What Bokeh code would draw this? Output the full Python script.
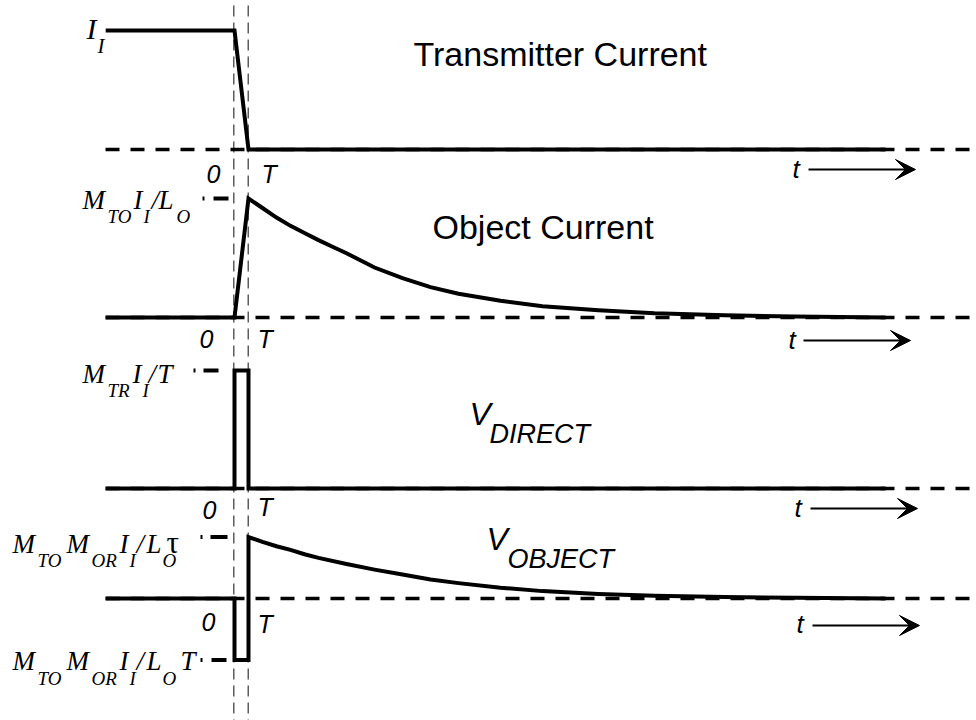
from bokeh.plotting import figure
from bokeh.models import Range1d, Label, Arrow, VeeHead
from bokeh.embed import file_html
from bokeh.resources import INLINE

# ---- waveforms, time in units of the switch-off ramp T ----
t_tx = [-9.2, 0.0, 1.0, 46.5]
i_tx = [1.0, 1.0, 0.0, 0.0]

t_obj = [-9.2, 0, 1, 2, 3, 4, 5, 6, 7, 8, 10, 12, 14, 16, 19, 22, 26, 30, 35, 40, 46.5]
i_obj = [0, 0, 1.00, 0.92, 0.84, 0.77, 0.71, 0.65, 0.595, 0.54, 0.42, 0.33, 0.255,
         0.20, 0.14, 0.095, 0.06, 0.035, 0.018, 0.008, 0.0]

t_dir = [-9.2, 0, 0, 1, 1, 46.5]
v_dir = [0, 0, 1, 1, 0, 0]

t_vob = [-9.2, 0, 0, 1, 1, 2, 3, 4, 5, 6, 8, 10, 12, 14, 16, 19, 22, 26, 30, 35, 40, 46.5]
v_vob = [0, 0, -1, -1, 1.0, 0.92, 0.85, 0.79, 0.72, 0.66, 0.56, 0.47, 0.39, 0.31,
         0.25, 0.175, 0.12, 0.075, 0.045, 0.025, 0.012, 0.0]

titles = ["Transmitter Current", "Object Current"]

# ---- layout ----
W, H = 976, 720
X0, TPX = 234.0, 14.0          # pixel of t=0 and pixels per T
SERIF, SANS = "Liberation Serif", "Liberation Sans"
MAIN, SUB = 27, 19             # serif symbol sizes


def px2t(px):
    return (px - X0) / TPX


p = figure(width=W, height=H, output_backend="svg", toolbar_location=None,
           x_range=Range1d(px2t(0), px2t(W)), y_range=Range1d(H, 0),
           min_border=0, min_border_left=0, min_border_right=0,
           min_border_top=0, min_border_bottom=0)
p.xaxis.visible = False
p.yaxis.visible = False
p.grid.visible = False
p.outline_line_color = None
p.background_fill_color = "white"
p.border_fill_color = "white"

# vertical guides at t = 0 and t = T
for tt in (-0.05, 0.98):
    p.line([tt, tt], [5, H + 2], line_color="#444444", line_width=1.3, line_dash="11 6")


def text(px, py, txt, size, font=SERIF, style="italic"):
    # py is the text baseline in layout pixels; label is anchored on its middle
    p.add_layout(Label(x=px2t(px), y=py - 0.35 * size, text=txt,
                       text_font=font, text_font_style=style,
                       text_font_size=f"{size}px", text_color="black",
                       text_baseline="middle", text_align="left"))


class Panel:
    def __init__(self, name, base, amp):
        self.name = name
        p.extra_y_ranges[name] = Range1d((base - H) / amp, base / amp)

    def baseline(self):
        p.line([px2t(105), px2t(W + 5)], [0, 0], y_range_name=self.name,
               line_color="black", line_width=3.5, line_dash="14 11")

    def signal(self, t, y):
        p.line(t, y, y_range_name=self.name, line_color="black", line_width=4,
               line_join="miter")

    def level(self, px0, value, dash):
        p.line([px2t(px0), px2t(233)], [value, value], y_range_name=self.name,
               line_color="black", line_width=4, line_dash=dash, line_cap="butt")


def zero_T(px0, py0, pxT, pyT):
    text(px0, py0, "0", 25, SANS)
    text(pxT, pyT, "T", 25, SANS)


def time_arrow(pxt, pyt, x0, x1, ya):
    text(pxt, pyt, "t", 26, SANS)
    p.add_layout(Arrow(end=VeeHead(size=20, fill_color="black", line_color="black",
                                   line_width=1),
                       x_start=px2t(x0), y_start=ya, x_end=px2t(x1), y_end=ya,
                       line_color="black", line_width=2))


# Transmitter current
p1 = Panel("tx", 149, 119)
p1.baseline()
p1.signal(t_tx, i_tx)
text(86, 38, "I", 30)
text(97, 53, "I", 21)
zero_T(206, 182, 261, 182)
time_arrow(792, 178, 808, 915, 169)
text(413, 65, titles[0], 34, SANS, "normal")

# Object current
p2 = Panel("obj", 317, 119)
p2.baseline()
p2.signal(t_obj, i_obj)
p2.level(202, max(i_obj), "2 9 15 30")
for px, py, s, sz in [(82, 209, "M", MAIN), (107, 223, "TO", SUB), (133, 209, "I", MAIN),
                      (143, 223, "I", SUB), (151, 209, "/", MAIN), (158, 209, "L", MAIN),
                      (176, 223, "O", SUB)]:
    text(px, py, s, sz)
zero_T(199, 347, 257, 347)
time_arrow(788, 349, 803, 910, 340)
text(432, 238, titles[1], 34, SANS, "normal")

# Direct (primary) voltage
p3 = Panel("dir", 488, 118)
p3.baseline()
p3.signal(t_dir, v_dir)
p3.level(193, max(v_dir), "2 8 15 30")
for px, py, s, sz in [(82, 383, "M", MAIN), (107, 397, "TR", SUB), (132, 383, "I", MAIN),
                      (142, 397, "I", SUB), (148, 383, "/", MAIN), (157, 383, "T", MAIN)]:
    text(px, py, s, sz)
zero_T(202, 518, 257, 515)
time_arrow(794, 517, 810, 917, 508)
text(469, 425, "V", 32, SANS)
text(489, 443, "DIRECT", 27, SANS)

# Object (secondary) voltage
p4 = Panel("vob", 598, 61.5)
p4.baseline()
p4.signal(t_vob, v_vob)
p4.level(200, max(v_vob), "2 8 17 30")
p4.level(200, min(v_vob), "2 9 15 30")
for base_main, base_sub, last in [(553, 567, None), (670, 685, "T")]:
    for px, py, s, sz in [(12, base_main, "M", MAIN), (37, base_sub, "TO", SUB),
                          (66, base_main, "M", MAIN), (91, base_sub, "OR", SUB),
                          (119, base_main, "I", MAIN), (129, base_sub, "I", SUB),
                          (136, base_main, "/", MAIN), (146, base_main, "L", MAIN),
                          (162, base_sub, "O", SUB)]:
        text(px, py, s, sz)
    if last:
        text(180, base_main, last, MAIN)
text(166, 553, "\u03c4", 31, SERIF, "normal")
zero_T(201, 630, 257, 632)
time_arrow(796, 633, 812, 919, 625)
text(486, 550, "V", 32, SANS)
text(507, 568, "OBJECT", 27, SANS)

open("out.html", "w").write(file_html(p, INLINE))
